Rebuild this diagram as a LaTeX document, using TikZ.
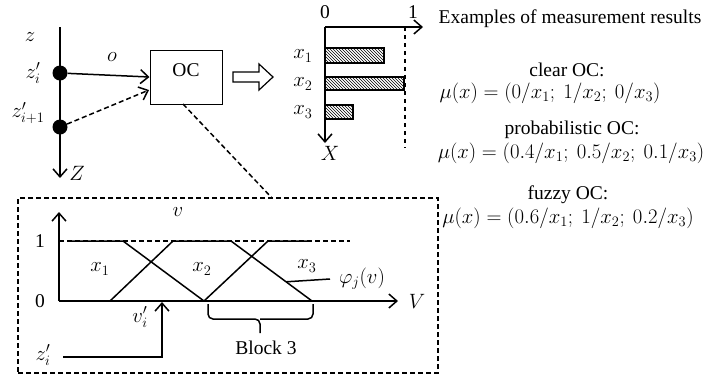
\documentclass[tikz,border=0pt]{standalone}
\usepackage{fontspec}
\setmainfont{Liberation Serif}
\usetikzlibrary{arrows.meta,patterns,calc}
\begin{document}
\begin{tikzpicture}[x=1pt,y=-1pt,
  every node/.style={font=\fontsize{19.5}{23}\selectfont, inner sep=0pt},
  ln/.style={line width=1.5pt},
  arr/.style={ln,-{Straight Barb[length=8pt,width=14pt]}},
  dsh/.style={dash pattern=on 5pt off 3pt},
  barbox/.style={draw,line width=1.5pt,pattern=north west lines},
  dot/.style={circle,fill,minimum size=15pt}]
\useasboundingbox (0,0) rectangle (704,376);
% ---------- left axis ----------
\coordinate (ztop) at (60,27);
\coordinate (zbot) at (60,178);
\draw[arr] (ztop) -- (zbot);
\node (zl) at (30,37) {$z$};
\node (zi) at (33,73) {$z'_i$};
\node (zi1) at (28,113) {$z'_{i+1}$};
\node (Zl) at (77,173) {$Z$};
\node[dot] (d1) at (60,73) {};
\node[dot] (d2) at (60,127) {};
\node (o) at (112,57) {$o$};
\node[draw,line width=1pt,minimum width=72pt,minimum height=54pt] (oc) at (186,77) {};
\node (octx) at (186,70) {OC};
\coordinate (ocin2) at (149,90);
\draw[arr] (d1) -- (oc.west);
\draw[arr,dsh] (d2) -- (ocin2);
% ---------- hollow arrow ----------
\draw[line width=1.2pt] (233,72) -- (259,72) -- (259,64) -- (273,77) -- (259,90) -- (259,82) -- (233,82) -- cycle;
% ---------- bar chart ----------
\coordinate (bo) at (325,27);
\coordinate (bx) at (325,143);
\coordinate (by) at (423,27);
\draw[arr] (bo) -- (bx);
\draw[arr] (bo) -- (by);
\node (b0) at (325,12) {0};
\node (b1) at (413,12) {1};
\coordinate (dl1) at (405,27);
\coordinate (dl2) at (405,148);
\draw[line width=1.2pt,dash pattern=on 4pt off 4pt] (dl1) -- (dl2);
\draw[barbox] (325,48) rectangle (384,63);
\draw[barbox] (325,77) rectangle (404,90);
\draw[barbox] (325,105) rectangle (353,119);
\node (bl1) at (303,56) {$x_1$};
\node (bl2) at (303,84) {$x_2$};
\node (bl3) at (303,112) {$x_3$};
\node (bX) at (330,153) {$X$};
% ---------- right texts ----------
\node (t0) at (570,19) {Examples of measurement results};
\node (t1) at (567,70) {clear OC:};
\node (m1) at (550,93) {$\mu(x)=(0/x_1;\ 1/x_2;\ 0/x_3)$};
\node (t2) at (572,130) {probabilistic OC:};
\node (m2) at (571,153) {$\mu(x)=(0.4/x_1;\ 0.5/x_2;\ 0.1/x_3)$};
\node (t3) at (568,195) {fuzzy OC:};
\node (m3) at (568,218) {$\mu(x)=(0.6/x_1;\ 1/x_2;\ 0.2/x_3)$};
% ---------- frame and link ----------
\node[draw,ln,dsh,minimum width=420pt,minimum height=175pt] (frame) at (228,285.5) {};
\coordinate (fr) at (272,198);
\coordinate (ocb) at (183,104);
\draw[ln,dsh] (ocb) -- (fr);
% ---------- membership functions ----------
\coordinate (O) at (59,301);
\coordinate (vtop) at (59,212);
\coordinate (vend) at (398,301);
\draw[arr] (O) -- (vtop);
\draw[arr] (O) -- (vend);
\coordinate (u1) at (59,241);
\coordinate (u2) at (350,241);
\draw[ln,dsh] (u1) -- (u2);
\draw[ln] (70,241) -- (123,241) -- (204,301);
\coordinate (a2) at (231,241);
\coordinate (b2) at (312,301);
\draw[ln] (110,301) -- (173,241) -- (a2) -- (b2);
\draw[ln] (204,301) -- (268,241) -- (308,241);
\node (f1) at (100,269) {$x_1$};
\node (f2) at (202,269) {$x_2$};
\node (f3) at (307,266) {$x_3$};
\node (phi) at (362,279) {$\varphi_j(v)$};
\coordinate (lp) at ($(a2)!0.68!(b2)$);
\draw[ln] (lp) -- (phi.west -| 330,0);
\node (Vl) at (417,301) {$V$};
\node (n0) at (40,301) {0};
\node (n1) at (40,241) {1};
\node (vl) at (178,212) {$v$};
% ---------- input arrow ----------
\node (zin) at (43,355) {$z'_i$};
\coordinate (zs) at (63,357);
\coordinate (zc) at (162,357);
\coordinate (ze) at (162,302);
\draw[arr] (zs) -- (zc) -- (ze);
\node (vi) at (140,317) {$v'_i$};
% ---------- brace ----------
\coordinate (brl) at (208,304);
\coordinate (brr) at (313,304);
\coordinate (brm) at (260,319);
\coordinate (brt) at (260,333);
\draw[ln,rounded corners=5pt] (brl) |- (brm) -- (brt);
\draw[ln,rounded corners=5pt] (brr) |- (brm);
\node (blk) at (266,348) {Block 3};
\end{tikzpicture}
\end{document}
